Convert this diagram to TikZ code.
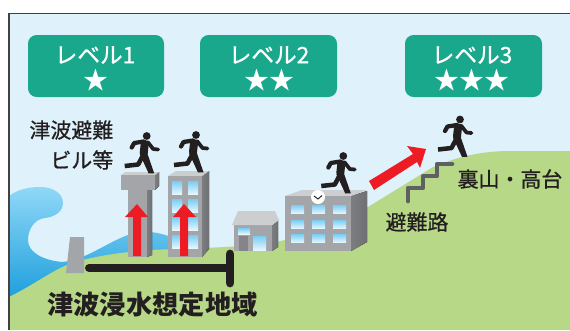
\documentclass[tikz,border=0pt]{standalone}
\usepackage{fontspec}
\setmainfont{Noto Sans CJK JP}
\newfontfamily\labelfont[FakeBold=0.8]{Noto Sans CJK JP}
\usetikzlibrary{calc}
\definecolor{sky}{HTML}{DFF2FB}
\definecolor{hill}{HTML}{B7D887}
\definecolor{teal}{HTML}{1AA88C}
\definecolor{ink}{HTML}{231F20}
\definecolor{alarm}{HTML}{ED1C24}
\definecolor{wallgray}{HTML}{A4A5A9}
\definecolor{sidegray}{HTML}{6F7074}
\definecolor{topgray}{HTML}{CDCED0}
\definecolor{stairgray}{HTML}{5F6062}
\definecolor{paneblue}{HTML}{78CDF5}
\definecolor{panepale}{HTML}{E6F6FD}
\definecolor{wavetop}{HTML}{8FD8F7}
\definecolor{wavemid}{HTML}{4AAEE3}
\definecolor{wavelow}{HTML}{1C9EDC}
\tikzset{
  x=0.75pt,y=-0.75pt,
  levelbox/.style={fill=teal,rounded corners=6.5pt},
  leveltext/.style={text=white,inner sep=0pt,font=\labelfont\fontsize{17}{17}\selectfont},
  starstext/.style={text=white,inner sep=0pt,font=\fontsize{18.7}{19}\selectfont},
  caption/.style={text=ink,inner sep=0pt,font=\labelfont\fontsize{15.7}{15.7}\selectfont},
  pane/.style={top color=paneblue,bottom color=panepale,draw=none},
  wall/.style={fill=wallgray},
  sidewall/.style={left color=sidegray!75!wallgray,right color=sidegray},
  roofplate/.style={fill=topgray},
  uparrow/.style={fill=alarm},
  pics/runner/.style={code={
    \fill[ink] (0,0) circle (3.9);
    \draw[ink,line width=3.2pt,line join=round,line cap=round] (-3,5.5) -- (-12.5,7) -- (-15,11.5);
    \draw[ink,line width=2.8pt,line join=round,line cap=round] (1,6) -- (6.5,13) -- (11.5,13.5);
    \draw[ink,line width=6pt,line cap=round] (-2,8) -- (-3,17);
    \draw[ink,line width=3.4pt,line join=round] (-3.5,19) -- (-8.5,28.5) -- (-22,30);
    \fill[ink] (-7,18) -- (0.5,17) -- (7.5,37.3) -- (2,37.5) -- cycle;
  }},
}
\newcommand{\windowgrid}[4]{%
  \foreach \wx in {#1} \foreach \wy in {#2}
    \shade[pane] (\wx,\wy) rectangle ++(#3,#4);}
\begin{document}
\begin{tikzpicture}
\useasboundingbox (0,0) rectangle (570,330);
\fill[white] (0,0) rectangle (570,330);
% sky with the frame along its top and left edges
\fill[sky] (9,14) rectangle (570,330);
% breaking wave
\shade[top color=wavetop,middle color=wavemid,bottom color=wavelow]
  (9,196) .. controls (18,189) and (30,187) .. (40,187)
  .. controls (54,187) and (63,194) .. (63,203)
  .. controls (63,212) and (54,217) .. (45,218)
  .. controls (34,219) and (28,230) .. (28,240)
  .. controls (28,252) and (42,260) .. (62,262)
  .. controls (88,260) and (112,238) .. (135,233)
  .. controls (155,229) and (172,236) .. (200,250)
  -- (200,290) -- (9,300) -- cycle;
% hillside rising to the right
\fill[hill] (9,297) .. controls (35,284) and (50,272) .. (67,265)
  .. controls (90,256) and (125,252) .. (150,250)
  .. controls (190,248) and (250,248) .. (285,240)
  -- (368,207) -- (433,167)
  .. controls (455,158) and (475,152) .. (505,151) -- (570,151) -- (570,330) -- (9,330) -- cycle;
\draw[ink!85!white,line width=1.1pt] (9,330) -- (9,13.5) -- (570,13.5);
% level badges
\fill[levelbox] (28,35) rectangle (164,97);
\fill[levelbox] (200,35) rectangle (337,97);
\fill[levelbox] (405,35) rectangle (542,97);
\node[leveltext] (lv1) at (95,55) {レベル1};
\node[leveltext] (lv2) at (269,55) {レベル2};
\node[leveltext] (lv3) at (472,55) {レベル3};
\node[starstext] (st1) at (96,80) {★};
\node[starstext] (st2) at (269,80) {★★};
\node[starstext] (st3) at (472,80) {★★★};
% seawall
\fill[wallgray] (70,237) -- (84,237) -- (84,273) -- (66,273) -- cycle;
% T-shaped evacuation tower
\fill[sidewall] (147,190) -- (152,190) -- (152,255) -- (147,257) -- cycle;
\fill[wall] (128,190) rectangle (147,257);
\fill[sidewall] (155,175) -- (159,172) -- (159,186) -- (155,190) -- cycle;
\fill[roofplate] (121,175) -- (125,172) -- (159,172) -- (155,175) -- cycle;
\fill[wall] (121,175) rectangle (155,190);
% evacuation block
\fill[sidewall] (202,176) -- (209,171) -- (209,249) -- (202,257) -- cycle;
\fill[roofplate] (168,176) -- (176,171) -- (209,171) -- (202,176) -- cycle;
\fill[wall] (168,176) rectangle (202,257);
\windowgrid{172,188}{181,199,217,235}{10}{13}
% red arrows up the two buildings
\fill[uparrow] (133,256) -- (133,217) -- (125,217) -- (137,204) -- (148,217) -- (141,217) -- (141,256) -- cycle;
\fill[uparrow] (180,256) -- (180,217) -- (173,217) -- (184,204) -- (196,217) -- (188,217) -- (188,256) -- cycle;
% house
\fill[sidewall] (272,226) -- (278,220) -- (278,247) -- (272,251) -- cycle;
\fill[wall] (234,225) rectangle (272,251);
\fill[roofplate] (232,225) -- (238,211) -- (275,211) -- (279,220) -- (272,225) -- cycle;
\shade[pane] (238,228) rectangle (250,234);
\fill[sidegray!85!white] (239,236) rectangle (248,251);
\shade[pane] (253,236) rectangle (266,250);
% mid-rise building on the slope
\fill[sidewall] (351,196) -- (367,191) -- (367,242) -- (351,251) -- cycle;
\fill[roofplate] (285,196) -- (302,190) -- (367,190) -- (351,196) -- cycle;
\fill[wall] (285,196) rectangle (351,251);
\windowgrid{291,312,333}{205,220,234}{13}{8.5}
\node[circle,fill=white,minimum size=10.5pt,inner sep=0pt] (clock) at (318,197) {};
\draw[ink,line width=0.7pt] ($(clock)+(-4,-1)$) -- ($(clock)+(0,2)$) -- ($(clock)+(4,-1.5)$);
% stairs up the hillside
\draw[stairgray,line width=3.6pt,line cap=round,line join=round]
  (408,201) -- (408,188) -- (423,188) -- (423,176) -- (437,176) -- (437,164) -- (452,164);
% red arrow toward higher ground
\fill[uparrow] (369,181) -- (413,154) -- (407,146) -- (426,149) -- (420,168) -- (417,162) -- (374,190) -- cycle;
% evacuees
\pic at (146.7,136) {runner};
\pic at (196,135) {runner};
\pic at (343.3,156) {runner};
\pic at (460,119.5) {runner};
% labels
\node[caption,anchor=east] (shelter1) at (113.5,130) {津波避難};
\node[caption,anchor=east] (shelter2) at (113.5,160) {ビル等};
\node[caption] (heights) at (510,179) {裏山・高台};
\node[caption] (route) at (417,222) {避難路};
% extent of the inundation zone
\draw[ink,line width=6pt,line cap=round] (89,268) -- (230,268);
\draw[ink,line width=6.6pt,line cap=round] (230,254) -- (230,283);
\node[text=ink,inner sep=0pt,font=\fontsize{19.7}{19.7}\bfseries\selectfont] (zone) at (152.5,305) {津波浸水想定地域};
\end{tikzpicture}
\end{document}
